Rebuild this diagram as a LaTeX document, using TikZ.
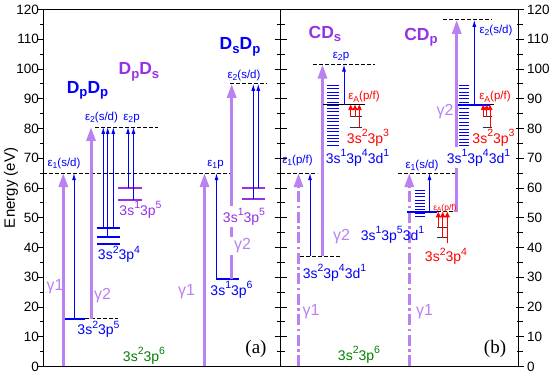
\documentclass[tikz,border=0pt]{standalone}
\usepackage{fontspec}
\setmainfont{Liberation Sans}
\newfontfamily\myserif{Liberation Serif}
\usetikzlibrary{arrows.meta}
\definecolor{lav}{RGB}{185,130,240}
\definecolor{vio}{RGB}{150,50,230}
\definecolor{blu}{RGB}{0,0,250}
\definecolor{grn}{RGB}{0,128,0}
\definecolor{rd}{RGB}{255,0,0}
\newcommand\myup[1]{\raisebox{0.48em}{\scalebox{0.75}{#1}}}
\newcommand\mydn[1]{\raisebox{-0.2em}{\scalebox{0.75}{#1}}}
\newcommand\myfs[1]{\fontsize{#1}{#1}\selectfont}
\begin{document}
\begin{tikzpicture}[x=1pt,y=2.975pt,
  ax/.style={line width=0.9pt,black},
  tick/.style={inner sep=0pt,font=\myfs{13.5}},
  thk/.style={draw=lav,line width=3pt,-{Triangle[width=9pt,length=14pt]}},
  thkdd/.style={thk,dash pattern=on 11pt off 3.5pt on 2.5pt off 3.5pt},
  thn/.style={draw=blu,line width=0.9pt,-{Latex[width=4pt,length=7pt]}},
  rarr/.style={draw=rd,fill=rd,line width=0.9pt,-{Triangle[width=5pt,length=5.5pt]}},
  lvlb/.style={draw=blu,line width=2pt},
  lvlv/.style={draw=vio,line width=2pt},
  dl/.style={draw=black,line width=0.8pt,dash pattern=on 3.5pt off 2.5pt},
  bar/.style={draw=black!80,line width=0.9pt},
  hat/.style={draw=blu,line width=0.6pt},
  lab/.style={inner sep=0pt,anchor=base},
  title/.style={lab,font=\myfs{17.5}\bfseries},
  lvtx/.style={lab,font=\myfs{14}},
  eps/.style={lab,font=\myfs{11.5},text=blu},
  gam/.style={lab,font=\myfs{16},text=lav},
  wht/.style={fill=white,inner sep=2pt}
]
\useasboundingbox (0,-2.52) rectangle (550,123.19);
% ---------- axes ----------
\draw[ax] (43,0) rectangle (518,120);
\draw[ax] (280.5,0) -- (280.5,120);
\foreach \e in {0,10,...,120}{
  \draw[ax] (43,\e) -- ++(-5,0);
  \draw[ax] (280.5,\e) ++(-6,0) -- ++(12,0);
  \draw[ax] (518,\e) ++(-2,0) -- ++(8,0);
  \node[tick,anchor=east] (tl\e) at (39,\e) {\e};
  \node[tick,anchor=west] (tr\e) at (527,\e) {\e};
}
\foreach \e in {5,15,...,115}{
  \draw[ax] (43,\e) -- ++(-3,0);
  \draw[ax] (280.5,\e) ++(-4,0) -- ++(8,0);
  \draw[ax] (518,\e) ++(-1.5,0) -- ++(6,0);
}
\node[rotate=90,font=\myfs{15}] (ylab) at (11,60) {Energy (eV)};
% ---------- panel (a) ----------
\draw[dl] (43,65) -- (230,65);
\draw[dl] (95,80.5) -- (158,80.5);
\draw[dl] (230,95) -- (267,95);
\draw[dl] (85,16) -- (118,16);
% DpDp
\draw[thk] (63.3,0) -- (63.3,65);
\draw[lvlb] (65,16) -- (85,16);
\draw[thn] (74,16) -- (74,65);
\draw[thk] (91,16) -- (91,80.5);
\draw[lvlb] (96.7,46.45) -- (120,46.45);
\draw[lvlb] (96.7,43.4) -- (120,43.4);
\draw[lvlb] (96.7,41.2) -- (120,41.2);
\draw[thn] (103.3,46.45) -- (103.3,80.5);
\draw[thn] (107.7,43.4) -- (107.7,80.5);
\draw[thn] (113.3,46.45) -- (113.3,80.5);
% DpDs
\draw[lvlv] (118,60.1) -- (142,60.1);
\draw[lvlv] (118,56) -- (142,56);
\draw[thn] (128,60.1) -- (128,80.5);
\draw[thn] (133.5,56) -- (133.5,80.5);
% DsDp
\draw[thk] (204.5,0) -- (204.5,65);
\draw[lvlb] (216,29.4) -- (239.3,29.4);
\draw[thn] (216.5,29.4) -- (216.5,65);
\draw[thk] (231.7,29.4) -- (231.7,95);
\draw[lvlv] (242,59.9) -- (265,59.9);
\draw[lvlv] (242,56.2) -- (265,56.2);
\draw[thn] (253.3,56.2) -- (253.3,95);
\draw[thn] (258.3,59.9) -- (258.3,95);
% texts (a)
\node[title,text=blu] (tDpDp) at (87.5,91.8) {D\mydn{p}D\mydn{p}};
\node[title,text=vio] (tDpDs) at (139,98) {D\mydn{p}D\mydn{s}};
\node[title,text=blu] (tDsDp) at (240,106.4) {D\mydn{s}D\mydn{p}};
\node[eps] (e1a) at (64,67.2) {ε\mydn{1}(s/d)};
\node[eps] (e2a) at (101.5,82.8) {ε\mydn{2}(s/d)};
\node[eps] (e2pa) at (131.5,82.8) {ε\mydn{2}p};
\node[eps] (e1pa) at (215.5,67.2) {ε\mydn{1}p};
\node[eps] (e2b) at (244,96.9) {ε\mydn{2}(s/d)};
\node[lvtx,text=blu] (l325) at (98.5,10.6) {3s\myup{2}3p\myup{5}};
\node[lvtx,text=blu] (l324) at (119,35.8) {3s\myup{2}3p\myup{4}};
\node[lvtx,text=vio] (l315a) at (140.5,50.9) {3s\myup{1}3p\myup{5}};
\node[lvtx,text=vio,wht] (l315b) at (244,48.5) {3s\myup{1}3p\myup{5}};
\node[lvtx,text=blu] (l316) at (231.5,24) {3s\myup{1}3p\myup{6}};
\node[lvtx,text=grn] (l326a) at (144,1.8) {3s\myup{2}3p\myup{6}};
\node[gam] (g1a) at (55,25.7) {γ1};
\node[gam] (g2a) at (102.5,22.4) {γ2};
\node[gam] (g1b) at (186.5,24) {γ1};
\node[gam,wht,inner xsep=4pt] (g2b) at (242.5,39.2) {γ2};
\node[lab,font=\myserif\myfs{19}] (pa) at (256,4.4) {(a)};
% ---------- panel (b) ----------
% CDs
\draw[dl] (281,65) -- (317,65);
\draw[thkdd] (298.5,0) -- (298.5,65);
\draw[dl] (300,37) -- (340,37);
\draw[thn] (310,37) -- (310,65);
\draw[thk] (322.5,37) -- (322.5,101.5);
\draw[dl] (313,101.5) -- (375,101.5);
\foreach \i in {0,...,18}{\draw[hat] (327,74.5+\i*1.111) -- (339,74.5+\i*1.111);}
\draw[black,line width=1.3pt] (323,88) -- (365,88);
\draw[thn] (344,88) -- (344,101.5);
\draw[bar] (349.5,84) -- (361.5,84);
\draw[bar] (349.5,80.4) -- (361.5,80.4);
\draw[rarr] (350.7,84) -- (350.7,88);
\draw[rarr] (355,84) -- (355,88);
\draw[rarr] (359.3,80.4) -- (359.3,88);
% CDp
\draw[dl] (398,65) -- (457,65);
\draw[thkdd] (409.3,0) -- (409.3,65);
\draw[thk] (456.7,52) -- (456.7,116.5);
\foreach \i in {0,...,8}{\draw[hat] (415,50.5+\i*1.1) -- (425,50.5+\i*1.1);}
\draw[lvlb] (407,52) -- (437,52);
\draw[dl] (437,52) -- (455,52);
\draw[thn] (429.5,52) -- (429.5,65);
\draw[bar] (436.7,46.7) -- (448.3,46.7);
\draw[bar] (436.7,43.3) -- (448.3,43.3);
\draw[rarr] (438.3,46.7) -- (438.3,52);
\draw[rarr] (442.7,43.3) -- (442.7,52);
\draw[rarr] (447.3,41.4) -- (447.3,52);
\draw[dl] (443,116.5) -- (492,116.5);
\foreach \i in {0,...,18}{\draw[hat] (459,74.2+\i*1.133) -- (469,74.2+\i*1.133);}
\draw[lvlb] (458,88) -- (490,88);
\draw[dl] (490,88) -- (495,88);
\draw[thn] (474.3,88) -- (474.3,116.5);
\draw[bar] (482.5,84) -- (491.5,84);
\draw[bar] (482.5,80.4) -- (491.5,80.4);
\draw[rarr] (483.3,84) -- (483.3,88);
\draw[rarr] (486.7,84) -- (486.7,88);
\draw[rarr] (490,80.4) -- (490,88);
% texts (b)
\node[title,text=vio] (tCDs) at (325,110.3) {CD\mydn{s}};
\node[title,text=vio] (tCDp) at (421,109.7) {CD\mydn{p}};
\node[eps] (e1c) at (297.5,68.3) {ε\mydn{1}(p/f)};
\node[eps] (e2c) at (341,103.6) {ε\mydn{2}p};
\node[eps,text=rd] (eAc) at (364,89.6) {ε\mydn{A}(p/f)};
\node[lvtx,text=rd] (l323c) at (368,75) {3s\myup{2}3p\myup{3}};
\node[lvtx,text=blu] (l3143c) at (357.5,68.3) {3s\myup{1}3p\myup{4}3d\myup{1}};
\node[lvtx,text=blu] (l3243) at (334.5,29.6) {3s\myup{2}3p\myup{4}3d\myup{1}};
\node[gam] (g2c) at (341.5,42.5) {γ2};
\node[gam] (g1c) at (311,17.3) {γ1};
\node[eps] (e1d) at (422,66.6) {ε\mydn{1}(s/d)};
\node[eps] (e2d) at (496,112) {ε\mydn{2}(s/d)};
\node[eps,text=rd] (eAd) at (495,89.6) {ε\mydn{A}(p/f)};
\node[lab,font=\myfs{8.5},text=rd] (eAe) at (445,52.6) {ε\mydn{A}(p/f)};
\node[gam] (g2d) at (445,84.5) {γ2};
\node[lvtx,text=rd] (l323d) at (493.5,75) {3s\myup{2}3p\myup{3}};
\node[lvtx,text=blu,wht] (l3143d) at (478.5,68.3) {3s\myup{1}3p\myup{4}3d\myup{1}};
\node[lvtx,text=blu] (l3153) at (392.5,42.5) {3s\myup{1}3p\myup{5}3d\myup{1}};
\node[lvtx,text=rd] (l324e) at (446,35.2) {3s\myup{2}3p\myup{4}};
\node[gam] (g1d) at (424.5,17.3) {γ1};
\node[lvtx,text=grn] (l326b) at (359,2) {3s\myup{2}3p\myup{6}};
\node[lab,font=\myserif\myfs{19}] (pb) at (495,4.4) {(b)};
\end{tikzpicture}
\end{document}
